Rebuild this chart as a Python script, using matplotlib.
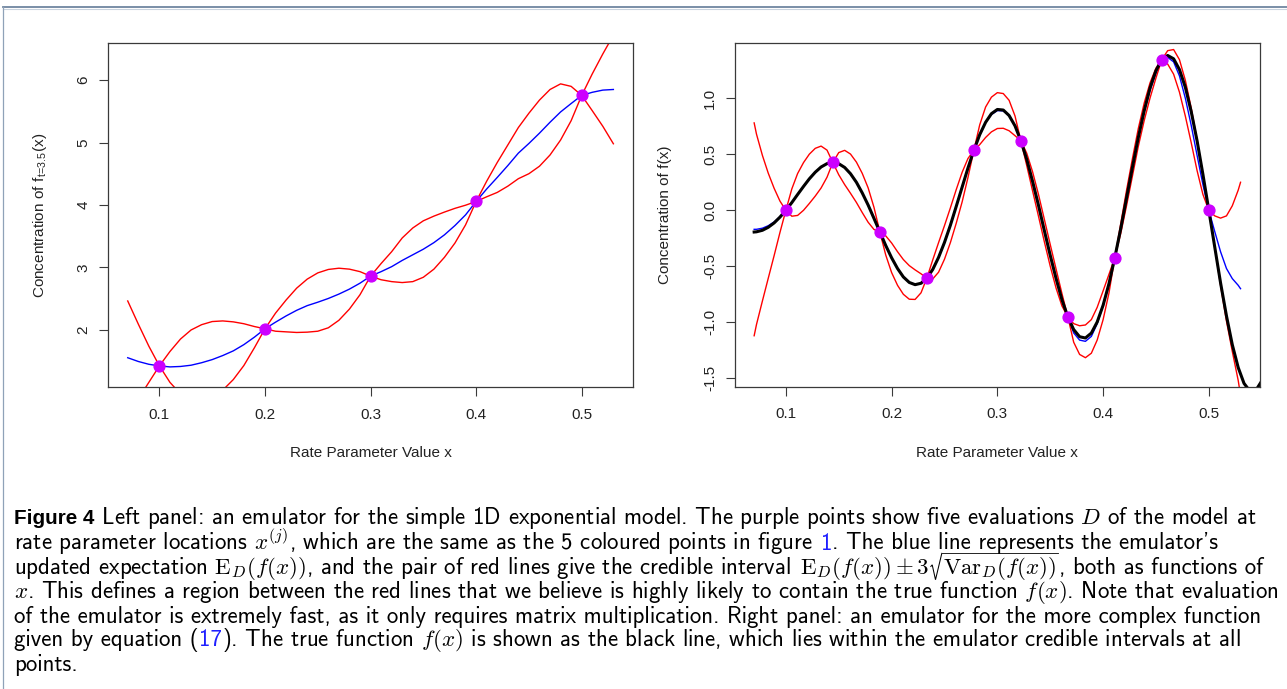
import matplotlib
matplotlib.use("Agg")
import matplotlib.pyplot as plt
from matplotlib.lines import Line2D

W, H, DPI = 1287, 689, 100
plt.rcParams['axes.unicode_minus'] = False
plt.rcParams['mathtext.fontset'] = 'cm'

# ---------------- left panel data ----------------
left_x = [0.07, 0.08, 0.09, 0.10, 0.11, 0.12, 0.13, 0.14, 0.15, 0.16, 0.17, 0.18, 0.19, 0.20,
          0.21, 0.22, 0.23, 0.24, 0.25, 0.26, 0.27, 0.28, 0.29, 0.30, 0.31, 0.32, 0.33, 0.34,
          0.35, 0.36, 0.37, 0.38, 0.39, 0.40, 0.41, 0.42, 0.43, 0.44, 0.45, 0.46, 0.47, 0.48,
          0.49, 0.50, 0.51, 0.52, 0.53]
left_mean = [1.55, 1.49, 1.445, 1.419, 1.403, 1.41, 1.43, 1.47, 1.52, 1.585, 1.66, 1.76, 1.88, 2.014,
             2.12, 2.22, 2.31, 2.385, 2.44, 2.50, 2.57, 2.65, 2.745, 2.858, 2.93, 3.01, 3.11, 3.20,
             3.29, 3.395, 3.52, 3.67, 3.84, 4.055, 4.255, 4.44, 4.63, 4.83, 4.985, 5.15, 5.325, 5.49,
             5.625, 5.755, 5.805, 5.84, 5.85]
left_upper = [2.46, 2.09, 1.735, 1.419, 1.65, 1.85, 1.995, 2.08, 2.13, 2.14, 2.125, 2.095, 2.05, 2.014,
              2.265, 2.475, 2.665, 2.81, 2.91, 2.965, 2.985, 2.97, 2.93, 2.858, 3.06, 3.25, 3.47, 3.63,
              3.745, 3.82, 3.885, 3.945, 3.995, 4.055, 4.38, 4.68, 4.96, 5.24, 5.47, 5.68, 5.85, 5.94,
              5.90, 5.755, 6.10, 6.42, 6.72]
left_lower = [0.64, 0.89, 1.155, 1.419, 1.155, 0.97, 0.87, 0.86, 0.91, 1.03, 1.20, 1.425, 1.71, 2.014,
              1.975, 1.965, 1.955, 1.96, 1.975, 2.03, 2.15, 2.33, 2.56, 2.858, 2.80, 2.77, 2.755, 2.77,
              2.84, 2.97, 3.16, 3.39, 3.68, 4.055, 4.13, 4.20, 4.30, 4.42, 4.50, 4.62, 4.80, 5.04,
              5.35, 5.755, 5.51, 5.26, 4.98]
left_pts_x = [0.1, 0.2, 0.3, 0.4, 0.5]
left_pts_y = [1.419, 2.014, 2.858, 4.055, 5.755]
left_xticks = [0.1, 0.2, 0.3, 0.4, 0.5]
left_yticks = [2, 3, 4, 5, 6]
left_ylabel = r'Concentration of f$_{\mathregular{t\!=\!3.5}}$(x)'

# ---------------- right panel data ----------------
right_x = [0.07, 0.0722, 0.0778, 0.0833, 0.0889, 0.0944, 0.1, 0.1056, 0.1111, 0.1167, 0.1222,
           0.1278, 0.1333, 0.1389, 0.1444, 0.15, 0.1556, 0.1611, 0.1667, 0.1722, 0.1778, 0.1833,
           0.1889, 0.1944, 0.2, 0.2056, 0.2111, 0.2167, 0.2222, 0.2278, 0.2333, 0.2389, 0.2444,
           0.25, 0.2556, 0.2611, 0.2667, 0.2722, 0.2778, 0.2833, 0.2889, 0.2944, 0.3, 0.3056,
           0.3111, 0.3167, 0.3222, 0.3278, 0.3333, 0.3389, 0.3444, 0.35, 0.3556, 0.3611, 0.3667,
           0.3722, 0.3778, 0.3833, 0.3889, 0.3944, 0.4, 0.4056, 0.4111, 0.4167, 0.4222, 0.4278,
           0.4333, 0.4389, 0.4444, 0.45, 0.4556, 0.4611, 0.4667, 0.4722, 0.4778, 0.4833, 0.4889,
           0.4944, 0.5, 0.5056, 0.5111, 0.5167, 0.5222, 0.5278, 0.53]
right_mean = [-0.17, -0.17, -0.16, -0.138, -0.104, -0.058, 0.0, 0.0685, 0.1409, 0.2131, 0.2809,
              0.34, 0.3864, 0.4163, 0.4267, 0.4158, 0.3823, 0.3265, 0.25, 0.1554, 0.0465, -0.0718,
              -0.1938, -0.3134, -0.4243, -0.5201, -0.5952, -0.6444, -0.6641, -0.6517, -0.6062, -0.5284, -0.4206,
              -0.287, -0.1331, 0.0342, 0.207, 0.3771, 0.5357, 0.6744, 0.7855, 0.855, 0.89, 0.887,
              0.846, 0.7537, 0.6214, 0.454, 0.2588, 0.0443, -0.1794, -0.4018, -0.6118, -0.7987, -0.9526,
              -1.095, -1.159, -1.170, -1.126, -1.013, -0.8485, -0.6537, -0.4218, -0.1631, 0.1105, 0.3859,
              0.65, 0.88, 1.07, 1.225, 1.346, 1.365, 1.325, 1.20, 1.00, 0.76, 0.49,
              0.23, 0.0, -0.19, -0.37, -0.52, -0.61, -0.67, -0.70]
right_upper = [0.78, 0.68, 0.49, 0.332, 0.196, 0.082, 0.0, 0.19, 0.328, 0.426, 0.501,
               0.553, 0.573, 0.537, 0.4267, 0.515, 0.535, 0.502, 0.43, 0.330, 0.200, 0.027,
               -0.1938, -0.228, -0.292, -0.370, -0.440, -0.494, -0.532, -0.567, -0.6062, -0.443, -0.289,
               -0.137, 0.022, 0.184, 0.339, 0.462, 0.5357, 0.762, 0.922, 1.010, 1.05, 1.042,
               0.982, 0.842, 0.6214, 0.509, 0.344, 0.141, -0.079, -0.305, -0.527, -0.744, -0.9526,
               -1.012, -1.031, -1.024, -0.976, -0.867, -0.720, -0.571, -0.4218, -0.119, 0.179, 0.464,
               0.73, 0.958, 1.138, 1.269, 1.346, 1.425, 1.435, 1.345, 1.16, 0.915, 0.626,
               0.318, 0.0, -0.05, -0.07, -0.05, 0.04, 0.18, 0.25]
right_lower = [-1.12, -1.02, -0.81, -0.608, -0.404, -0.198, 0.0, -0.053, -0.046, 0.0, 0.061,
               0.127, 0.199, 0.295, 0.4267, 0.317, 0.229, 0.152, 0.07, -0.020, -0.107, -0.171,
               -0.1938, -0.398, -0.556, -0.670, -0.750, -0.794, -0.796, -0.737, -0.6062, -0.613, -0.553,
               -0.437, -0.288, -0.116, 0.075, 0.292, 0.5357, 0.586, 0.650, 0.700, 0.73, 0.732,
               0.710, 0.666, 0.6214, 0.399, 0.174, -0.053, -0.279, -0.499, -0.697, -0.854, -0.9526,
               -1.178, -1.287, -1.316, -1.276, -1.159, -0.977, -0.737, -0.4218, -0.207, 0.042, 0.308,
               0.57, 0.802, 1.002, 1.181, 1.346, 1.305, 1.215, 1.055, 0.84, 0.605, 0.354,
               0.142, 0.0, -0.33, -0.67, -0.99, -1.26, -1.52, -1.65]
true_x = right_x[:-1] + [0.5333, 0.5389, 0.5444, 0.55]
true_y = [-0.194, -0.1922, -0.1787, -0.1522, -0.1127, -0.0613, 0.0, 0.0685, 0.1409, 0.2131, 0.2809,
          0.34, 0.3864, 0.4163, 0.4267, 0.4158, 0.3823, 0.3265, 0.25, 0.1554, 0.0465, -0.0718,
          -0.1938, -0.3134, -0.4243, -0.5201, -0.5952, -0.6444, -0.6641, -0.6517, -0.6062, -0.5284, -0.4206,
          -0.287, -0.1331, 0.0342, 0.207, 0.3771, 0.5357, 0.6744, 0.7855, 0.8624, 0.9, 0.8949,
          0.8459, 0.7537, 0.6214, 0.454, 0.2588, 0.0443, -0.1794, -0.4018, -0.6118, -0.7987, -0.9526,
          -1.065, -1.129, -1.1401, -1.0963, -0.998, -0.8485, -0.6537, -0.4218, -0.1631, 0.1105, 0.3859,
          0.65, 0.8895, 1.0923, 1.2473, 1.3459, 1.3819, 1.3523, 1.2566, 1.0979, 0.8828, 0.6198,
          0.321, 0.0, -0.3282, -0.648, -0.9436, -1.2001, -1.4044, -1.5455, -1.6151, -1.6085, -1.5244]
right_pts_x = [0.1, 0.1444, 0.1889, 0.2333, 0.2778, 0.3222, 0.3667, 0.4111, 0.4556, 0.5]
right_pts_y = [0.0, 0.4267, -0.1938, -0.6062, 0.5357, 0.6214, -0.9526, -0.4218, 1.346, 0.0]
right_xticks = [0.1, 0.2, 0.3, 0.4, 0.5]
right_yticks = [-1.5, -1.0, -0.5, 0.0, 0.5, 1.0]
right_ylabel = 'Concentration of f(x)'
xlabel = 'Rate Parameter Value x'

fig = plt.figure(figsize=(W / DPI, H / DPI), dpi=DPI)
fig.patch.set_facecolor('white')


def px_axes(l, t, r, b):
    return fig.add_axes([l / W, 1 - b / H, (r - l) / W, (b - t) / H])


def style(ax, xticks, yticks, yfmt):
    for s in ax.spines.values():
        s.set_color('#3a3a3a')
        s.set_linewidth(0.9)
    ax.set_xticks(xticks)
    ax.set_xticklabels(['%.1f' % v for v in xticks])
    ax.set_yticks(yticks)
    ax.set_yticklabels([yfmt % v for v in yticks], rotation=90, va='center')
    ax.tick_params(direction='out', length=6.7, width=0.8, color='#3a3a3a',
                   labelsize=11, labelcolor='#222222')
    ax.tick_params(axis='x', pad=8)
    ax.tick_params(axis='y', pad=6)
    for lab in ax.get_xticklabels() + ax.get_yticklabels():
        lab.set_family('Liberation Sans')


PT = dict(marker='o', ms=7.8, color='#cc00ff', linestyle='none', zorder=6)

# left panel
axL = px_axes(108.3, 42.7, 632.8, 387.3)
axL.plot(left_x, left_mean, color='#0000ff', lw=1.0)
axL.plot(left_x, left_upper, color='#ff0000', lw=1.0)
axL.plot(left_x, left_lower, color='#ff0000', lw=1.0)
axL.plot(left_pts_x, left_pts_y, **PT)
axL.set_xlim(0.0516, 0.5484)
axL.set_ylim(1.076, 6.60)
style(axL, left_xticks, left_yticks, '%d')

# right panel
axR = px_axes(734.7, 42.7, 1260.0, 386.7)
axR.plot(right_x, right_mean, color='#0000ff', lw=1.0)
axR.plot(right_x, right_upper, color='#ff0000', lw=1.0)
axR.plot(right_x, right_lower, color='#ff0000', lw=1.0)
axR.plot(true_x, true_y, color='black', lw=2.2)
axR.plot(right_pts_x, right_pts_y, **PT)
axR.set_xlim(0.0516, 0.5484)
axR.set_ylim(-1.575, 1.496)
style(axR, right_xticks, right_yticks, '%.1f')

LBL = dict(fontsize=11, family='Liberation Sans', color='#222222', ha='center', va='center')
fig.text(370.5 / W, 1 - 453 / H, xlabel, **LBL)
fig.text(997.3 / W, 1 - 453 / H, xlabel, **LBL)
fig.text(40 / W, 1 - 215 / H, left_ylabel, rotation=90, **LBL)
fig.text(665 / W, 1 - 215 / H, right_ylabel, rotation=90, **LBL)

# outer frame lines
fig.add_artist(Line2D([3 / W, 1], [1 - 7 / H, 1 - 7 / H], color='#6f86a0', lw=1.3))
fig.add_artist(Line2D([3 / W, 1], [1 - 8.5 / H, 1 - 8.5 / H], color='#c9d3de', lw=0.8))
fig.add_artist(Line2D([3 / W, 3 / W], [0, 1 - 7 / H], color='#8fa2b8', lw=0.9))

# ---------------- caption ----------------
cap_lines = [
    [('Figure 4', 'b'), (' Left panel: an emulator for the simple 1D exponential model. The purple points show five evaluations $D$ of the model at', 'k')],
    [('rate parameter locations $x^{(j)}$, which are the same as the 5 coloured points in figure ', 'k'), ('1', 'blue'), (". The blue line represents the emulator's", 'k')],
    [(r'updated expectation $\mathrm{E}_D(f(x))$, and the pair of red lines give the credible interval ', 'k'),
     (r'$\mathrm{E}_D(f(x))\pm3$', 'k'), (r'$\mathrm{Var}_D(f(x))$', 'sqrt'), (', both as functions of', 'k')],
    [('$x$. This defines a region between the red lines that we believe is highly likely to contain the true function $f(x)$. Note that evaluation', 'k')],
    [('of the emulator is extremely fast, as it only requires matrix multiplication. Right panel: an emulator for the more complex function', 'k')],
    [('given by equation (', 'k'), ('17', 'blue'), ('). The true function $f(x)$ is shown as the black line, which lies within the emulator credible intervals at all', 'k')],
    [('points.', 'k')],
]
cap_y = [524.0, 549.5, 574.0, 598.5, 622.5, 646.5, 670.5]
cap_x0 = 14

renderer = fig.canvas.get_renderer()


def mk(x, y, s, kind, fs):
    kw = dict(fontsize=fs, va='baseline', ha='left', math_fontfamily='cm', family='cmss10')
    if kind == 'b':
        kw.update(family='Liberation Sans', weight='bold', fontsize=fs * 0.9)
    kw['color'] = '#1f1fff' if kind == 'blue' else 'black'
    return fig.text(x / W, 1 - y / H, s, **kw)


def width(s, kind, fs):
    t = mk(0, 0, s + '|', kind, fs)
    w1 = t.get_window_extent(renderer).width
    t.remove()
    t = mk(0, 0, '|', kind, fs)
    w2 = t.get_window_extent(renderer).width
    t.remove()
    return w1 - w2


def fline(xs, ys, lw):
    fig.add_artist(Line2D([v / W for v in xs], [1 - v / H for v in ys],
                          color='black', lw=lw, solid_joinstyle='miter'))


# caption font size chosen so that line 1 spans the reference width
fs0 = 12.0
w_line1 = sum(width(s, k, fs0) for s, k in cap_lines[0])
fs = fs0 * (1258 - cap_x0) / w_line1
em = fs * DPI / 72.0

for runs, y in zip(cap_lines, cap_y):
    x = cap_x0
    for s, kind in runs:
        if kind == 'sqrt':
            # radical sign drawn as a stroke, then the radicand with its vinculum
            top = y - 0.9 * em
            rw = 0.5 * em
            fline([x + 0.5, x + 0.12 * rw + 0.5, x + 0.45 * rw, x + rw],
                  [y - 0.33 * em, y - 0.40 * em, y + 0.25 * em, top], 0.75)
            w = width(s, 'k', fs)
            fline([x + rw, x + rw + w + 1], [top, top], 0.6)
            mk(x + rw + 1, y, s, 'k', fs)
            x += rw + w + 2
        else:
            mk(x, y, s, kind, fs)
            x += width(s, kind, fs)

fig.savefig('out.png', dpi=DPI, facecolor='white')
